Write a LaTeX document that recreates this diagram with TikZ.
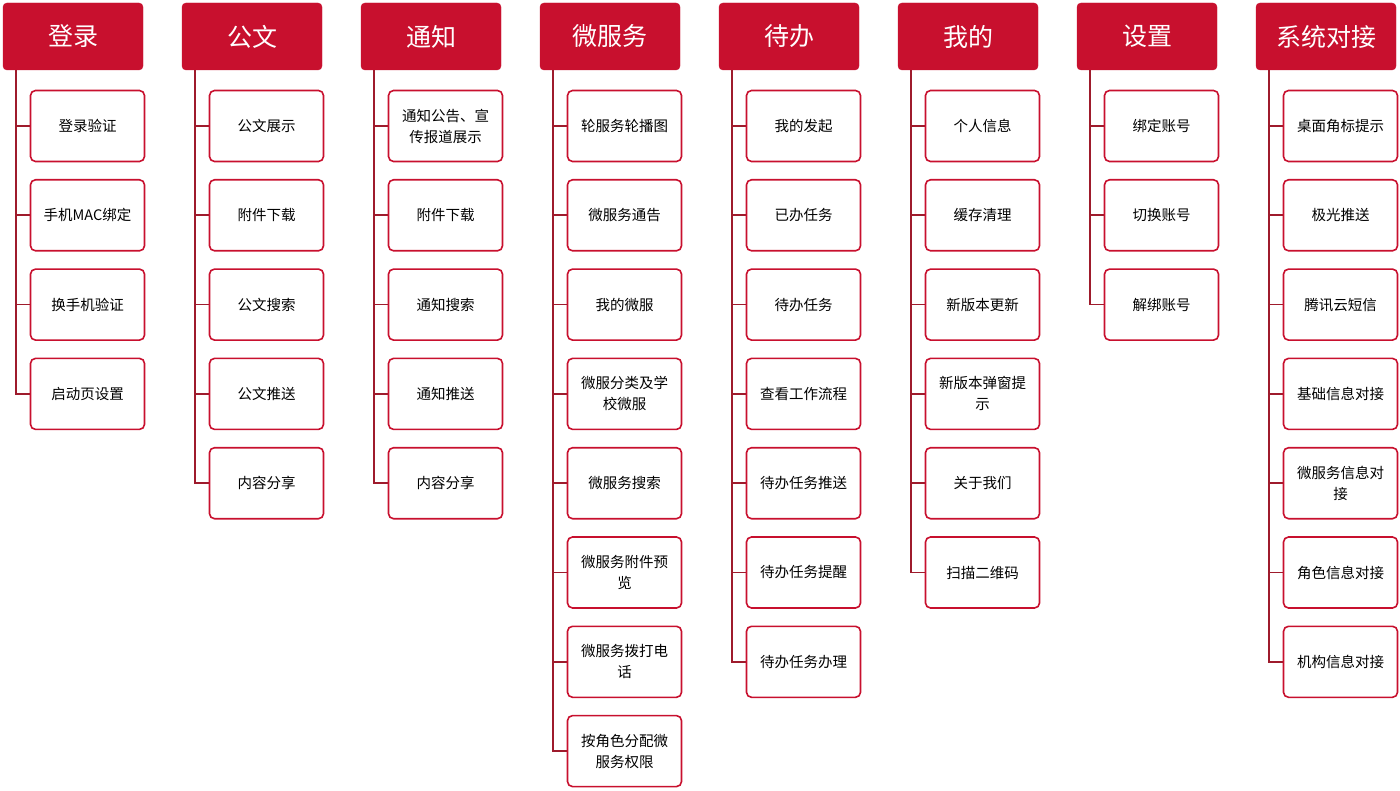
\documentclass[tikz,border=0pt]{standalone}
\usepackage{fontspec}
\setmainfont{Noto Sans CJK SC}
\definecolor{menured}{HTML}{C8102E}
\definecolor{linkred}{HTML}{9E1B2C}
\tikzset{
  head/.style={draw=menured,fill=menured,text=white,rounded corners=4pt,
    minimum width=140pt,minimum height=67pt,font=\fontsize{25}{28}\selectfont},
  item/.style={draw=menured,line width=1.6pt,fill=white,rounded corners=5pt,
    minimum width=114pt,minimum height=71pt,text width=106pt,align=center,
    font=\fontsize{14.5}{21}\selectfont},
  link/.style={draw=linkred,line width=1.6pt},
}
% one menu column: index, title, items
\newcommand{\menucol}[3]{%
  \node[head] (h#1) at ({73+179*(#1-1)},36.5) {#2};
  \foreach \t [count=\i] in {#3} {
    \draw[link] ([xshift=13pt]h#1.south west) |- ({87.5+179*(#1-1)},{126+89.3*(\i-1)});
    \node[item] (h#1-\i) at ({87.5+179*(#1-1)},{126+89.3*(\i-1)}) {\t};
  }%
}
\begin{document}
\begin{tikzpicture}[x=1pt,y=-1pt]
\useasboundingbox (0,0) rectangle (1400,791);
\menucol{1}{登录}{登录验证,手机MAC绑定,换手机验证,启动页设置}
\menucol{2}{公文}{公文展示,附件下载,公文搜索,公文推送,内容分享}
\menucol{3}{通知}{{通知公告、宣\\传报道展示},附件下载,通知搜索,通知推送,内容分享}
\menucol{4}{微服务}{轮服务轮播图,微服务通告,我的微服,{微服分类及学\\校微服},微服务搜索,{微服务附件预\\览},{微服务拨打电\\话},{按角色分配微\\服务权限}}
\menucol{5}{待办}{我的发起,已办任务,待办任务,查看工作流程,待办任务推送,待办任务提醒,待办任务办理}
\menucol{6}{我的}{个人信息,缓存清理,新版本更新,{新版本弹窗提\\示},关于我们,扫描二维码}
\menucol{7}{设置}{绑定账号,切换账号,解绑账号}
\menucol{8}{系统对接}{桌面角标提示,极光推送,腾讯云短信,基础信息对接,{微服务信息对\\接},角色信息对接,机构信息对接}
\end{tikzpicture}
\end{document}
